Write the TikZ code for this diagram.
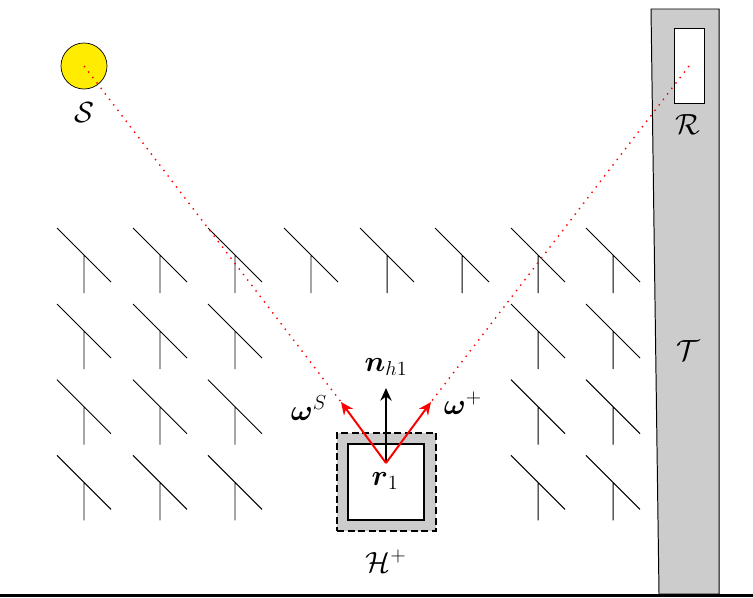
\documentclass[tikz,border=0pt]{standalone}
\usepackage{amsmath}
\usepackage{amssymb}
\usetikzlibrary{arrows.meta, positioning, calc}
\definecolor{TowerGray}{gray}{0.8}
\definecolor{SunColor}{RGB}{255,236,0}
\tikzset{
    panel/.style={draw=black, line width=0.7pt},
    tower/.style={draw=black, line width=0.7pt, fill=TowerGray},
    receiver/.style={draw=black, line width=1.5pt, fill=white, rectangle, inner sep=0pt, minimum width=1.9cm, minimum height=1.9cm},
    aperture/.style={draw=black, dash pattern=on 5pt off 2.5pt, line width=0.8pt, fill=TowerGray, rectangle, inner sep=0pt, minimum width=2.475cm, minimum height=2.45cm},
    window/.style={draw=black, line width=0.7pt, fill=white, rectangle, inner sep=0pt, minimum width=0.75cm, minimum height=1.89cm},
    sun/.style={draw=black, line width=0.5pt, fill=SunColor, circle, inner sep=0pt, minimum size=1.15cm},
    sunray/.style={red, line width=1pt, dash pattern=on 1pt off 3.9pt},
    normal/.style={-{Stealth[length=9pt, width=8pt]}, black, line width=1.4pt},
    ray/.style={-{Stealth[length=9pt, width=8pt]}, red, line width=1.4pt},
    lab/.style={font=\huge, inner sep=0pt}
}
\begin{document}
\begin{tikzpicture}[x=0.025cm, y=-0.025cm]
        \useasboundingbox (0,0) rectangle (753,597);

        % heliostat field
        \foreach \col in {84,160,235,311,387,462,538,613} {
            \draw[panel] (\col-27,228) -- (\col+27,282) (\col,255) -- (\col,293);
        }
        \foreach \row in {0,1,2} {
            \foreach \col in {84,160,235,538,613} {
                \draw[panel] (\col-27,304+\row*75.7) -- (\col+27,358+\row*75.7) (\col,331+\row*75.7) -- (\col,369+\row*75.7);
            }
        }

        % tower
        \draw[tower] (651,9) -- (719,9) -- (719,594) -- (659,594) -- cycle;
        \node[window] (window) at (689,66) {};
        \node[lab] (labelR) at (688,125) {$\mathcal{R}$};
        \node[lab] (labelT) at (688,351) {$\mathcal{T}$};

        % sun
        \node[sun] (sun) at (84,66) {};
        \node[lab] (labelS) at (84,113) {$\mathcal{S}$};

        % receiver on the ground
        \node[aperture] (aperture) at (386.5,482) {};
        \node[receiver] (receiver) at (386,482) {};
        \node[lab] (labelH) at (386,561) {$\mathcal{H}^{+}$};
        \node[lab] (labelr) at (385,481) {$\boldsymbol{r}_1$};

        \coordinate (hit) at (386,463);
        \coordinate (tipN) at (386,388);
        \coordinate (tipS) at (341,402);
        \coordinate (tipP) at (431,402);

        \draw[sunray] (sun.center) -- (tipS);
        \draw[sunray] (window.center) -- (tipP);

        \draw[normal] (hit) -- (tipN);
        \draw[ray] (hit) -- (tipS);
        \draw[ray] (hit) -- (tipP);

        \node[lab] (labelN) at (386,367) {$\boldsymbol{n}_{h1}$};
        \node[lab] (labelWS) at (309,408) {$\boldsymbol{\omega}^{S}$};
        \node[lab] (labelWP) at (463,403) {$\boldsymbol{\omega}^{+}$};

        % ground
        \coordinate (groundL) at (0,595.5);
        \coordinate (groundR) at (753,595.5);
        \draw[black, line width=2.8pt] (groundL) -- (groundR);
\end{tikzpicture}
\end{document}
